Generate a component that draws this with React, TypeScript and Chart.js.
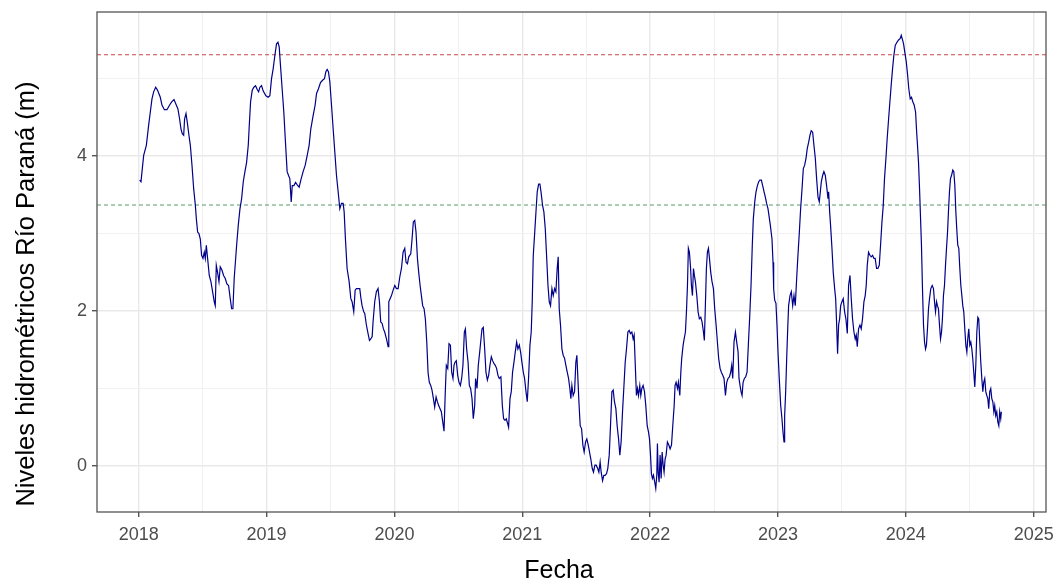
import React, { useEffect, useRef } from "react";
import { Chart, registerables } from "chart.js";

Chart.register(...registerables);

// ---- Data (decimal year, level in m) ----
const fechas2018 = [2018.008, 2018.018, 2018.026, 2018.039, 2018.06, 2018.078, 2018.091, 2018.104, 2018.117, 2018.133, 2018.148, 2018.169, 2018.182, 2018.201, 2018.221, 2018.242, 2018.258, 2018.276, 2018.294, 2018.307, 2018.32, 2018.331, 2018.341, 2018.352, 2018.359, 2018.37, 2018.38, 2018.393, 2018.404, 2018.417, 2018.43, 2018.443, 2018.451, 2018.461, 2018.471, 2018.482, 2018.492, 2018.503, 2018.513, 2018.521, 2018.529, 2018.539, 2018.552, 2018.565, 2018.578, 2018.591, 2018.599, 2018.607, 2018.617, 2018.628, 2018.638, 2018.651, 2018.664, 2018.677, 2018.69, 2018.703, 2018.716, 2018.727, 2018.737, 2018.747];
const niveles2018 = [3.69, 3.67, 3.8, 4.01, 4.14, 4.4, 4.57, 4.74, 4.83, 4.89, 4.85, 4.76, 4.66, 4.6, 4.6, 4.66, 4.7, 4.73, 4.66, 4.61, 4.48, 4.35, 4.29, 4.27, 4.48, 4.55, 4.44, 4.27, 4.14, 3.88, 3.58, 3.37, 3.19, 3.02, 3.0, 2.93, 2.72, 2.68, 2.76, 2.68, 2.85, 2.68, 2.46, 2.38, 2.25, 2.12, 2.07, 2.59, 2.5, 2.38, 2.57, 2.53, 2.46, 2.42, 2.35, 2.33, 2.16, 2.03, 2.03, 2.42];

const fechas2019 = [2018.766, 2018.779, 2018.792, 2018.805, 2018.818, 2018.831, 2018.844, 2018.857, 2018.865, 2018.875, 2018.888, 2018.901, 2018.914, 2018.927, 2018.938, 2018.948, 2018.961, 2018.974, 2018.995, 2019.013, 2019.026, 2019.039, 2019.052, 2019.065, 2019.078, 2019.089, 2019.099, 2019.109, 2019.122, 2019.135, 2019.148, 2019.161, 2019.172, 2019.182, 2019.193, 2019.201, 2019.214, 2019.227, 2019.24, 2019.255, 2019.268, 2019.286, 2019.302, 2019.318, 2019.333, 2019.346, 2019.365, 2019.38, 2019.391, 2019.406, 2019.422, 2019.438, 2019.453, 2019.464, 2019.474, 2019.484, 2019.495, 2019.508, 2019.521, 2019.534, 2019.547, 2019.56, 2019.573, 2019.586, 2019.599, 2019.607, 2019.617, 2019.63, 2019.646, 2019.659, 2019.669, 2019.682, 2019.693, 2019.703, 2019.716, 2019.729, 2019.737, 2019.747, 2019.76];
const niveles2019 = [2.85, 3.11, 3.32, 3.45, 3.67, 3.8, 3.92, 4.14, 4.4, 4.7, 4.85, 4.89, 4.91, 4.86, 4.83, 4.89, 4.91, 4.84, 4.78, 4.76, 4.78, 5.0, 5.13, 5.3, 5.45, 5.47, 5.41, 5.17, 4.87, 4.57, 4.18, 3.8, 3.75, 3.71, 3.41, 3.62, 3.62, 3.66, 3.63, 3.6, 3.69, 3.8, 3.88, 4.01, 4.14, 4.35, 4.53, 4.66, 4.81, 4.87, 4.95, 4.98, 5.0, 5.09, 5.12, 5.09, 4.96, 4.66, 4.35, 4.05, 3.75, 3.54, 3.32, 3.39, 3.39, 3.28, 2.93, 2.55, 2.38, 2.16, 2.12, 1.99, 2.27, 2.29, 2.29, 2.29, 2.18, 2.07, 1.99];

const fechas2020 = [2019.768, 2019.781, 2019.794, 2019.805, 2019.815, 2019.826, 2019.833, 2019.846, 2019.859, 2019.872, 2019.883, 2019.893, 2019.904, 2019.914, 2019.924, 2019.938, 2019.951, 2019.956, 2019.966, 2019.977, 2019.99, 2020.003, 2020.016, 2020.029, 2020.042, 2020.055, 2020.068, 2020.081, 2020.091, 2020.102, 2020.112, 2020.128, 2020.138, 2020.148, 2020.159, 2020.169, 2020.18, 2020.19, 2020.201, 2020.211, 2020.221, 2020.232, 2020.242, 2020.253, 2020.263, 2020.273, 2020.284, 2020.294, 2020.305, 2020.315, 2020.326, 2020.336, 2020.346, 2020.357, 2020.367, 2020.378, 2020.388, 2020.398, 2020.406, 2020.417, 2020.427, 2020.438, 2020.448, 2020.458, 2020.466, 2020.474, 2020.484, 2020.495, 2020.505, 2020.516, 2020.526, 2020.536, 2020.547, 2020.555, 2020.565, 2020.576, 2020.586, 2020.596, 2020.607, 2020.617, 2020.628, 2020.635, 2020.646, 2020.656, 2020.667, 2020.677, 2020.685, 2020.695, 2020.706, 2020.716, 2020.727, 2020.737, 2020.747, 2020.758, 2020.768, 2020.779, 2020.789, 2020.799, 2020.81, 2020.82];
const niveles2020 = [1.97, 1.82, 1.71, 1.62, 1.64, 1.67, 1.86, 2.12, 2.25, 2.29, 2.12, 1.86, 1.84, 1.77, 1.73, 1.64, 1.54, 2.12, 2.16, 2.2, 2.27, 2.33, 2.29, 2.29, 2.44, 2.55, 2.76, 2.81, 2.63, 2.61, 2.7, 2.74, 2.93, 3.15, 3.17, 3.02, 2.68, 2.5, 2.33, 2.2, 2.07, 2.03, 1.9, 1.6, 1.21, 1.08, 1.04, 0.98, 0.87, 0.76, 0.89, 0.83, 0.78, 0.74, 0.7, 0.57, 0.45, 0.96, 1.3, 1.26, 1.58, 1.56, 1.21, 1.13, 1.3, 1.34, 1.36, 1.17, 1.08, 1.04, 1.13, 1.3, 1.73, 1.77, 1.51, 1.34, 1.04, 1.0, 0.87, 0.61, 0.78, 1.13, 1.0, 1.3, 1.47, 1.64, 1.77, 1.79, 1.51, 1.21, 1.11, 1.17, 1.3, 1.41, 1.36, 1.32, 1.3, 1.26, 1.17, 1.13];

const fechas2021 = [2020.833, 2020.844, 2020.854, 2020.865, 2020.875, 2020.885, 2020.893, 2020.904, 2020.914, 2020.924, 2020.935, 2020.945, 2020.956, 2020.966, 2020.977, 2020.987, 2020.997, 2021.008, 2021.018, 2021.029, 2021.039, 2021.049, 2021.06, 2021.07, 2021.078, 2021.086, 2021.096, 2021.107, 2021.117, 2021.128, 2021.138, 2021.148, 2021.159, 2021.169, 2021.18, 2021.19, 2021.201, 2021.211, 2021.221, 2021.232, 2021.242, 2021.253, 2021.263, 2021.273, 2021.281, 2021.289, 2021.299, 2021.31, 2021.32, 2021.331, 2021.341, 2021.352, 2021.362, 2021.372, 2021.38, 2021.388, 2021.398, 2021.409, 2021.419, 2021.427, 2021.435, 2021.443, 2021.453, 2021.464, 2021.474, 2021.484, 2021.495, 2021.505, 2021.516, 2021.526, 2021.536, 2021.547, 2021.557, 2021.568, 2021.578, 2021.589, 2021.599, 2021.609, 2021.617, 2021.628, 2021.638, 2021.648, 2021.659, 2021.669, 2021.68, 2021.69, 2021.701, 2021.711, 2021.721, 2021.732, 2021.742, 2021.753, 2021.763, 2021.773, 2021.784, 2021.794, 2021.805, 2021.815, 2021.826, 2021.836, 2021.846, 2021.857, 2021.867];
const niveles2021 = [1.15, 0.78, 0.61, 0.59, 0.61, 0.55, 0.5, 0.87, 0.96, 1.21, 1.34, 1.47, 1.6, 1.51, 1.56, 1.47, 1.34, 1.21, 1.13, 0.96, 0.83, 1.13, 1.56, 1.73, 2.12, 2.72, 2.98, 3.28, 3.54, 3.64, 3.64, 3.52, 3.36, 3.28, 3.06, 2.72, 2.33, 2.12, 2.07, 2.29, 2.2, 2.29, 2.25, 2.55, 2.7, 2.03, 1.82, 1.51, 1.43, 1.39, 1.3, 1.21, 1.13, 1.0, 0.87, 1.04, 0.91, 0.96, 1.34, 1.43, 1.13, 0.83, 0.52, 0.48, 0.27, 0.18, 0.31, 0.35, 0.27, 0.18, 0.09, -0.03, -0.08, 0.01, 0.01, -0.03, -0.08, 0.05, -0.08, -0.19, -0.12, -0.12, -0.1, -0.03, 0.14, 0.52, 0.96, 0.98, 0.83, 0.74, 0.52, 0.35, 0.14, 0.31, 0.7, 1.0, 1.34, 1.51, 1.73, 1.75, 1.71, 1.73, 1.64];

const fechas2022 = [2021.875, 2021.883, 2021.893, 2021.901, 2021.909, 2021.919, 2021.927, 2021.935, 2021.945, 2021.956, 2021.966, 2021.977, 2021.987, 2021.995, 2022.003, 2022.01, 2022.018, 2022.026, 2022.036, 2022.044, 2022.052, 2022.057, 2022.063, 2022.07, 2022.078, 2022.086, 2022.094, 2022.102, 2022.109, 2022.117, 2022.125, 2022.135, 2022.146, 2022.156, 2022.167, 2022.177, 2022.188, 2022.195, 2022.203, 2022.214, 2022.221, 2022.232, 2022.24, 2022.247, 2022.258, 2022.266, 2022.276, 2022.284, 2022.292, 2022.299, 2022.307, 2022.315, 2022.323, 2022.331, 2022.339, 2022.346, 2022.354, 2022.365, 2022.375, 2022.385, 2022.396, 2022.406, 2022.417, 2022.424, 2022.432, 2022.44, 2022.448, 2022.456, 2022.464, 2022.474, 2022.484, 2022.495, 2022.505, 2022.516, 2022.526, 2022.536, 2022.547, 2022.557, 2022.568, 2022.578, 2022.589, 2022.599, 2022.609, 2022.62, 2022.63, 2022.638, 2022.646, 2022.656, 2022.667, 2022.677, 2022.688, 2022.695, 2022.703, 2022.711, 2022.719, 2022.727, 2022.737, 2022.747, 2022.758, 2022.768, 2022.779, 2022.789, 2022.799, 2022.807, 2022.818, 2022.828, 2022.839, 2022.849, 2022.859, 2022.87, 2022.88, 2022.891, 2022.901, 2022.911, 2022.922];
const niveles2022 = [1.69, 1.34, 0.91, 1.0, 0.91, 1.04, 0.91, 1.0, 1.04, 0.96, 0.78, 0.52, 0.44, 0.35, 0.14, -0.1, -0.16, -0.12, -0.21, -0.29, -0.12, 0.29, -0.08, -0.21, 0.14, -0.16, 0.18, 0.01, -0.08, 0.09, 0.14, 0.31, 0.27, 0.22, 0.27, 0.52, 0.78, 1.04, 1.08, 1.0, 1.08, 0.91, 1.21, 1.39, 1.56, 1.64, 1.73, 1.99, 2.33, 2.81, 2.76, 2.59, 2.33, 2.2, 2.55, 2.46, 2.38, 2.2, 1.99, 1.9, 1.92, 1.86, 1.73, 1.62, 2.07, 2.55, 2.76, 2.81, 2.68, 2.5, 2.38, 2.29, 2.03, 1.82, 1.6, 1.39, 1.26, 1.21, 1.17, 1.13, 0.91, 1.08, 1.13, 1.15, 1.21, 1.3, 1.13, 1.6, 1.73, 1.6, 1.47, 1.13, 1.04, 0.96, 0.91, 1.08, 1.13, 1.15, 1.21, 1.56, 1.94, 2.33, 2.85, 3.19, 3.41, 3.54, 3.62, 3.67, 3.69, 3.69, 3.62, 3.54, 3.47, 3.39, 3.32];

const fechas2023 = [2022.94, 2022.953, 2022.961, 2022.966, 2022.974, 2022.984, 2022.992, 2023.0, 2023.01, 2023.021, 2023.031, 2023.039, 2023.047, 2023.052, 2023.06, 2023.068, 2023.076, 2023.083, 2023.094, 2023.104, 2023.115, 2023.125, 2023.135, 2023.146, 2023.156, 2023.167, 2023.177, 2023.188, 2023.198, 2023.208, 2023.219, 2023.229, 2023.24, 2023.25, 2023.26, 2023.271, 2023.281, 2023.292, 2023.302, 2023.313, 2023.323, 2023.331, 2023.339, 2023.349, 2023.359, 2023.37, 2023.38, 2023.391, 2023.396, 2023.404, 2023.411, 2023.422, 2023.432, 2023.443, 2023.451, 2023.458, 2023.466, 2023.474, 2023.482, 2023.49, 2023.5, 2023.51, 2023.521, 2023.531, 2023.542, 2023.552, 2023.563, 2023.573, 2023.583, 2023.594, 2023.604, 2023.612, 2023.62, 2023.63, 2023.641, 2023.651, 2023.661, 2023.672, 2023.682, 2023.69, 2023.698, 2023.708, 2023.719, 2023.729, 2023.74, 2023.75, 2023.76, 2023.771, 2023.781, 2023.792, 2023.802, 2023.813, 2023.823, 2023.833, 2023.844, 2023.854, 2023.865, 2023.875, 2023.885, 2023.896, 2023.906, 2023.917, 2023.93, 2023.943, 2023.956, 2023.964, 2023.974];
const niveles2023 = [3.11, 2.93, 2.63, 2.29, 2.14, 2.1, 1.82, 1.47, 1.13, 0.78, 0.61, 0.44, 0.31, 0.65, 0.96, 1.39, 1.77, 2.07, 2.2, 2.25, 2.07, 2.2, 2.07, 2.42, 2.72, 3.02, 3.32, 3.58, 3.84, 3.88, 3.97, 4.1, 4.18, 4.27, 4.33, 4.31, 4.14, 3.97, 3.71, 3.47, 3.41, 3.54, 3.67, 3.75, 3.8, 3.75, 3.62, 3.45, 3.54, 3.28, 3.11, 2.81, 2.5, 2.29, 2.16, 1.86, 1.45, 1.82, 1.9, 2.07, 2.12, 2.16, 1.99, 1.9, 1.71, 2.33, 2.46, 2.16, 1.9, 1.73, 1.64, 1.69, 1.54, 1.77, 1.82, 1.77, 1.9, 2.12, 2.2, 2.33, 2.59, 2.76, 2.72, 2.7, 2.72, 2.68, 2.68, 2.55, 2.55, 2.59, 2.85, 3.15, 3.36, 3.71, 3.97, 4.23, 4.48, 4.7, 4.91, 5.13, 5.3, 5.43, 5.47, 5.5, 5.52, 5.56, 5.5];

const fechas2024 = [2023.982, 2023.992, 2024.003, 2024.013, 2024.023, 2024.034, 2024.044, 2024.055, 2024.065, 2024.076, 2024.083, 2024.091, 2024.099, 2024.107, 2024.115, 2024.122, 2024.13, 2024.138, 2024.146, 2024.154, 2024.161, 2024.169, 2024.177, 2024.185, 2024.195, 2024.206, 2024.216, 2024.224, 2024.232, 2024.24, 2024.247, 2024.255, 2024.263, 2024.271, 2024.279, 2024.286, 2024.294, 2024.302, 2024.31, 2024.318, 2024.326, 2024.333, 2024.341, 2024.349, 2024.357, 2024.367, 2024.375, 2024.383, 2024.391, 2024.398, 2024.406, 2024.414, 2024.422, 2024.43, 2024.438, 2024.445, 2024.453, 2024.461, 2024.469, 2024.477, 2024.484, 2024.492, 2024.5, 2024.508, 2024.516, 2024.523, 2024.531, 2024.539, 2024.547, 2024.555, 2024.563, 2024.57, 2024.578, 2024.586, 2024.594, 2024.602, 2024.609, 2024.617, 2024.625, 2024.633, 2024.641, 2024.648, 2024.656, 2024.664, 2024.672, 2024.68, 2024.688, 2024.695, 2024.703, 2024.711, 2024.719, 2024.727, 2024.734, 2024.742, 2024.747];
const niveles2024 = [5.45, 5.34, 5.22, 5.06, 4.87, 4.74, 4.76, 4.7, 4.66, 4.57, 4.35, 4.14, 3.92, 3.58, 3.19, 2.85, 2.29, 1.82, 1.6, 1.51, 1.56, 1.77, 2.03, 2.16, 2.29, 2.33, 2.29, 2.12, 1.99, 2.12, 2.07, 2.03, 1.82, 1.64, 1.73, 1.9, 2.2, 2.33, 2.59, 2.81, 3.02, 3.28, 3.54, 3.71, 3.75, 3.82, 3.8, 3.62, 3.28, 3.06, 2.85, 2.81, 2.55, 2.33, 2.2, 2.07, 1.99, 1.77, 1.56, 1.47, 1.64, 1.77, 1.56, 1.6, 1.51, 1.39, 1.21, 1.02, 1.3, 1.73, 1.92, 1.9, 1.6, 1.34, 1.13, 0.96, 1.08, 1.13, 0.96, 0.91, 0.87, 0.74, 0.96, 1.0, 0.87, 0.83, 0.7, 0.78, 0.65, 0.7, 0.57, 0.52, 0.7, 0.61, 0.7];

const nivelAlerta = 5.31;
const nivelReferencia = 3.37;

const xTicks = [2018, 2018.5, 2019, 2019.5, 2020, 2020.5, 2021, 2021.5, 2022, 2022.5, 2023, 2023.5, 2024, 2024.5, 2025];
const yTicks = [0, 1, 2, 3, 4, 5];
const xMajorLabels = [2018, 2019, 2020, 2021, 2022, 2023, 2024, 2025];
const yMajorLabels = [0, 2, 4];

const X_MIN = 2017.674;
const X_MAX = 2025.096;
const Y_MIN = -0.594;
const Y_MAX = 5.861;

const tituloY = "Niveles hidrométricos Río Paraná (m)";
const tituloX = "Fecha";

const FONT = "'Liberation Sans', Arial, Helvetica, sans-serif";

function buildSeries() {
  const f = [...fechas2018, ...fechas2019, ...fechas2020, ...fechas2021, ...fechas2022, ...fechas2023, ...fechas2024];
  const n = [...niveles2018, ...niveles2019, ...niveles2020, ...niveles2021, ...niveles2022, ...niveles2023, ...niveles2024];
  return f.map((x, i) => ({ x, y: n[i] }));
}

const isMajorX = (v: number) => xMajorLabels.includes(v);
const isMajorY = (v: number) => yMajorLabels.includes(v);

export default function App() {
  const ref = useRef<HTMLCanvasElement | null>(null);

  useEffect(() => {
    if (!ref.current) return;
    const framePlugin = {
      id: "ggFrame",
      afterDatasetsDraw(chart: any) {
        const { ctx, chartArea: a } = chart;
        ctx.save();
        ctx.strokeStyle = "#555555";
        ctx.lineWidth = 1.3;
        ctx.strokeRect(a.left, a.top, a.right - a.left, a.bottom - a.top);
        ctx.restore();
      },
      afterDraw(chart: any) {
        const { ctx } = chart;
        ctx.save();
        ctx.fillStyle = "#000000";
        ctx.textAlign = "center";
        ctx.textBaseline = "alphabetic";
        ctx.font = `25px ${FONT}`;
        ctx.fillText(tituloX, 559, 578);
        ctx.font = `25.5px ${FONT}`;
        ctx.translate(33.5, 294);
        ctx.rotate(-Math.PI / 2);
        ctx.fillText(tituloY, 0, 0);
        ctx.restore();
      },
    };

    const chart = new Chart(ref.current, {
      type: "line",
      data: {
        datasets: [
          {
            data: buildSeries(),
            borderColor: "#00008B",
            borderWidth: 1.2,
            pointRadius: 0,
            tension: 0,
          },
          {
            data: [
              { x: X_MIN, y: nivelAlerta },
              { x: X_MAX, y: nivelAlerta },
            ],
            borderColor: "#c84a4a",
            borderWidth: 1.1,
            borderDash: [4, 3],
            pointRadius: 0,
          },
          {
            data: [
              { x: X_MIN, y: nivelReferencia },
              { x: X_MAX, y: nivelReferencia },
            ],
            borderColor: "#5a9c6c",
            borderWidth: 1.1,
            borderDash: [4, 3],
            pointRadius: 0,
          },
        ],
      },
      options: {
        animation: false,
        responsive: false,
        devicePixelRatio: 1,
        layout: { padding: { left: 0, top: 12, right: 11, bottom: 0 } },
        plugins: { legend: { display: false }, tooltip: { enabled: false } },
        scales: {
          x: {
            type: "linear",
            min: X_MIN,
            max: X_MAX,
            afterBuildTicks: (s: any) => {
              s.ticks = xTicks.map((v) => ({ value: v }));
            },
            afterFit: (s: any) => {
              s.height = 69;
              s.paddingLeft = 0;
              s.paddingRight = 0;
            },
            ticks: {
              autoSkip: false,
              maxRotation: 0,
              padding: 7,
              color: "#4d4d4d",
              font: { family: FONT, size: 18 },
              callback: (v: any) => (isMajorX(Number(v)) ? String(v) : ""),
            },
            grid: {
              color: (c: any) => (c.tick && isMajorX(c.tick.value) ? "#e9e9e9" : "#f1f1f1"),
              lineWidth: (c: any) => (c.tick && isMajorX(c.tick.value) ? 1.4 : 1),
              tickColor: (c: any) => (c.tick && isMajorX(c.tick.value) ? "#555555" : "rgba(0,0,0,0)"),
              tickLength: 5,
              drawTicks: true,
            },
            border: { display: false },
          },
          y: {
            type: "linear",
            min: Y_MIN,
            max: Y_MAX,
            afterBuildTicks: (s: any) => {
              s.ticks = yTicks.map((v) => ({ value: v }));
            },
            afterFit: (s: any) => {
              s.width = 97;
              s.paddingTop = 0;
              s.paddingBottom = 0;
            },
            ticks: {
              padding: 5,
              color: "#4d4d4d",
              font: { family: FONT, size: 18 },
              callback: (v: any) => (isMajorY(Number(v)) ? String(v) : ""),
            },
            grid: {
              color: (c: any) => (c.tick && isMajorY(c.tick.value) ? "#e9e9e9" : "#f1f1f1"),
              lineWidth: (c: any) => (c.tick && isMajorY(c.tick.value) ? 1.4 : 1),
              tickColor: (c: any) => (c.tick && isMajorY(c.tick.value) ? "#555555" : "rgba(0,0,0,0)"),
              tickLength: 5,
              drawTicks: true,
            },
            border: { display: false },
          },
        },
      },
      plugins: [framePlugin],
    } as any);

    return () => chart.destroy();
  }, []);

  return (
    <div style={{ position: "absolute", left: 0, top: 0, width: 1057, height: 581, background: "#ffffff" }}>
      <canvas ref={ref} width={1057} height={581} style={{ width: 1057, height: 581, display: "block" }} />
    </div>
  );
}
